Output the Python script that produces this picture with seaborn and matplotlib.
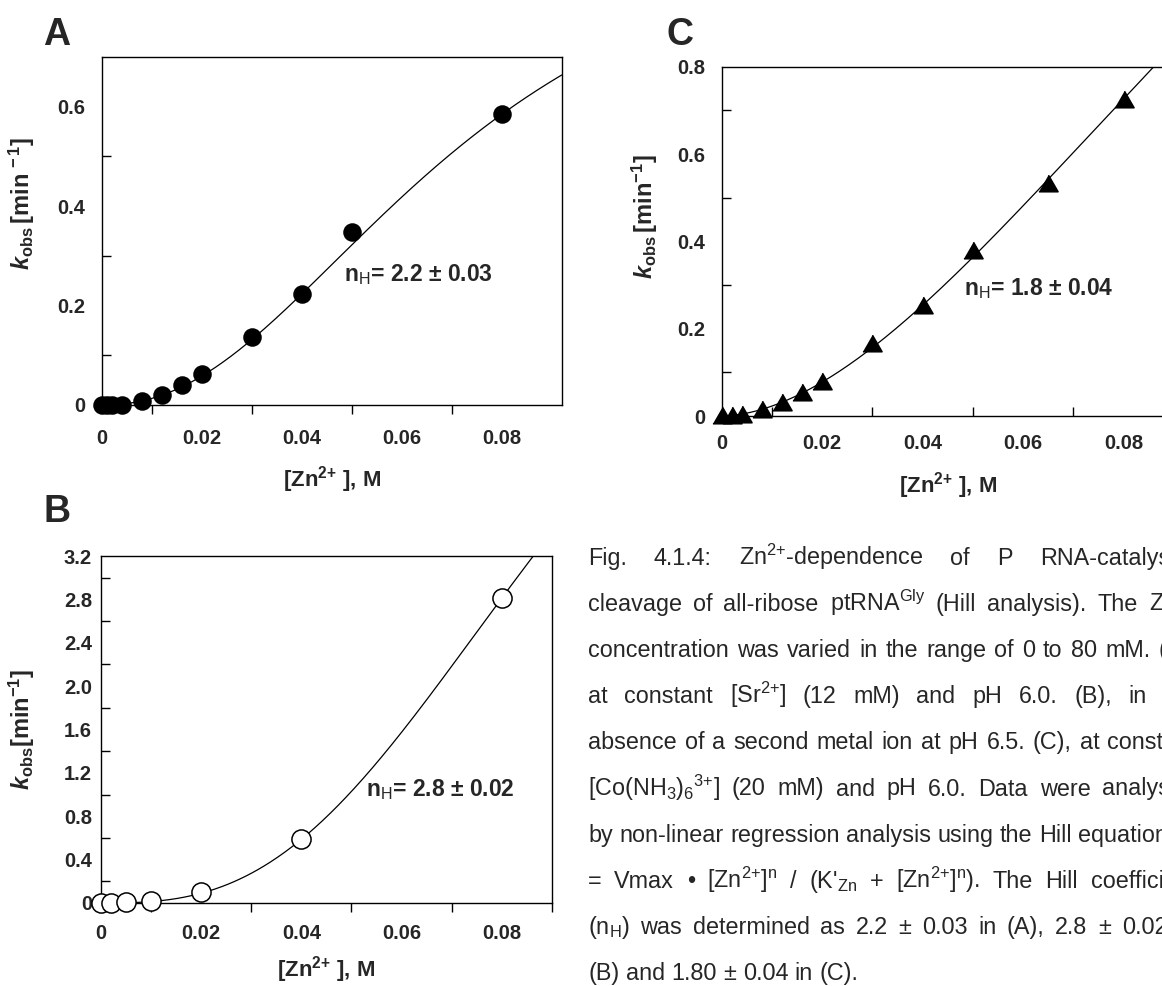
import numpy as np
import pandas as pd
import seaborn as sns
import matplotlib.pyplot as plt

sns.set_theme(style='white')
plt.rcParams['font.family'] = ['Liberation Sans', 'DejaVu Sans']
plt.rcParams['mathtext.fontset'] = 'custom'
plt.rcParams['mathtext.rm'] = 'Liberation Sans'
plt.rcParams['mathtext.it'] = 'Liberation Sans:italic:bold'
plt.rcParams['mathtext.bf'] = 'Liberation Sans:bold'
plt.rcParams['mathtext.sf'] = 'Liberation Sans'

# ---- data ----
zn_a = [0, 0.001, 0.002, 0.004, 0.008, 0.012, 0.016, 0.02, 0.03, 0.04, 0.05, 0.08]
kobs_a = [0, 0, 0, 0.001, 0.008, 0.021, 0.040, 0.062, 0.137, 0.223, 0.347, 0.585]

zn_b = [0, 0.002, 0.005, 0.01, 0.02, 0.04, 0.08]
kobs_b = [0, 0, 0.006, 0.02, 0.104, 0.587, 2.81]

zn_c = [0, 0.002, 0.004, 0.008, 0.012, 0.016, 0.02, 0.03, 0.04, 0.05, 0.065, 0.08]
kobs_c = [0.002, 0.003, 0.004, 0.015, 0.032, 0.055, 0.080, 0.168, 0.254, 0.381, 0.533, 0.727]

# Hill fit parameters (vmax, K, n) estimated from the drawn curves
hill_a = (1.064, 0.0731, 2.2)
hill_b = (7.70, 0.0975, 2.8)
hill_c = (2.911, 0.1474, 1.8)

nh_a = 'n$_{\\mathrm{H}}$= 2.2 ± 0.03'
nh_b = 'n$_{\\mathrm{H}}$= 2.8 ± 0.02'
nh_c = 'n$_{\\mathrm{H}}$= 1.8 ± 0.04'

xticks = [0, 0.02, 0.04, 0.06, 0.08]
xticklabels = ['0', '0.02', '0.04', '0.06', '0.08']
xminor = [0.01, 0.03, 0.05, 0.07, 0.09]
yticks_a = [0, 0.2, 0.4, 0.6]
yticklabels_a = ['0', '0.2', '0.4', '0.6']
yminor_a = [0.1, 0.3, 0.5]
yticks_b = [0, 0.4, 0.8, 1.2, 1.6, 2.0, 2.4, 2.8, 3.2]
yticklabels_b = ['0', '0.4', '0.8', '1.2', '1.6', '2.0', '2.4', '2.8', '3.2']
yminor_b = [0.2, 0.6, 1.0, 1.4, 1.8, 2.2, 2.6, 3.0]
yticks_c = [0, 0.2, 0.4, 0.6, 0.8]
yticklabels_c = ['0', '0.2', '0.4', '0.6', '0.8']
yminor_c = [0.1, 0.3, 0.5, 0.7]

caption_lines = [
    'Fig. 4.1.4: Zn$^{2{+}}$-dependence of P RNA-catalysed',
    'cleavage of all-ribose ptRNA$^{\\mathrm{Gly}}$ (Hill analysis). The Zn$^{2{+}}$',
    'concentration was varied in the range of 0 to 80 mM. (A),',
    'at constant [Sr$^{2{+}}$] (12 mM) and pH 6.0. (B), in the',
    'absence of a second metal ion at pH 6.5. (C), at constant',
    '[Co(NH$_{3}$)$_{6}{}^{3{+}}$] (20 mM) and pH 6.0. Data were analysed',
    'by non-linear regression analysis using the Hill equation: k$_{\\mathrm{obs}}$',
    '= Vmax • [Zn$^{2{+}}$]$^{\\mathrm{n}}$ / (K\'$_{\\mathrm{Zn}}$ + [Zn$^{2{+}}$]$^{\\mathrm{n}}$). The Hill coefficient',
    '(n$_{\\mathrm{H}}$) was determined as 2.2 ± 0.03 in (A), 2.8 ± 0.02 in',
    '(B) and 1.80 ± 0.04 in (C).',
]

W, H = 1162, 986
fig = plt.figure(figsize=(W / 100, H / 100), dpi=100)


def hill(x, p):
    vmax, k, n = p
    return vmax * x ** n / (k ** n + x ** n)


def make_axes(left, top, right, bottom):
    return fig.add_axes([left / W, 1 - bottom / H, (right - left) / W, (bottom - top) / H])


panels = [
    dict(name='A', box=(101.7, 57, 561.7, 405), x=zn_a, y=kobs_a, fit=hill_a, xmax=0.092, ymax=0.7,
         yt=yticks_a, ytl=yticklabels_a, ym=yminor_a, xm=xminor[:4], xdir='out', ypad=12, xpad=7,
         xlabpad=12, ylab_xy=(-0.141, 0.58),
         marker='o', s=150, face='black', note=nh_a, note_xy=(0.0485, 0.262),
         ylab='$k_{\\mathbf{obs}}\\,\\mathbf{[min^{\\,-1}]}$', letter=(43, 45)),
    dict(name='B', box=(101, 556, 551.7, 903), x=zn_b, y=kobs_b, fit=hill_b, xmax=0.09, ymax=3.2,
         yt=yticks_b, ytl=yticklabels_b, ym=yminor_b, xm=xminor, xdir='out', ypad=6.5, xpad=5,
         xlabpad=8, ylab_xy=(-0.142, 0.5),
         marker='o', s=190, face='white', note=nh_b, note_xy=(0.053, 1.045),
         ylab='$k_{\\mathbf{obs}}\\mathbf{[min^{-1}]}$', letter=(44, 522)),
    dict(name='C', box=(721.7, 66.7, 1174, 416), x=zn_c, y=kobs_c, fit=hill_c, xmax=0.09, ymax=0.8,
         yt=yticks_c, ytl=yticklabels_c, ym=yminor_c, xm=xminor, xdir='in', ypad=12, xpad=13,
         xlabpad=12, ylab_xy=(-0.136, 0.57),
         marker=[(-1, -0.866), (1, -0.866), (0, 0.866)], s=190, face='black', note=nh_c,
         note_xy=(0.0483, 0.292), ylab='$k_{\\mathbf{obs}}\\,\\mathbf{[min^{-1}]}$', letter=(667, 45)),
]

for p in panels:
    ax = make_axes(*p['box'])
    xs = np.linspace(0, p['xmax'], 300)
    curve = pd.DataFrame({'zn': xs, 'k': hill(xs, p['fit'])})
    sns.lineplot(data=curve, x='zn', y='k', color='black', lw=0.9, ax=ax)
    pts = pd.DataFrame({'zn': p['x'], 'k': p['y']})
    sns.scatterplot(data=pts, x='zn', y='k', marker=p['marker'], s=p['s'], color=p['face'],
                    edgecolor='black', linewidth=1.1, clip_on=False, zorder=5, ax=ax)
    ax.set_xlim(0, p['xmax'])
    ax.set_ylim(0, p['ymax'])
    ax.set_xticks(xticks, labels=xticklabels, fontsize=14.5, fontweight='bold')
    ax.set_xticks(p['xm'], minor=True)
    ax.set_yticks(p['yt'], labels=p['ytl'], fontsize=14.5, fontweight='bold')
    ax.set_yticks(p['ym'], minor=True)
    ax.tick_params(axis='y', which='major', direction='in', length=10, width=1, color='black', pad=p['ypad'])
    ax.tick_params(axis='y', which='minor', direction='in', length=6.5, width=1, color='black', left=True)
    ax.tick_params(axis='x', which='major', direction=p['xdir'], length=10, width=1, color='black', pad=p['xpad'])
    ax.tick_params(axis='x', which='minor', direction=p['xdir'], length=6.5, width=1, color='black', bottom=True)
    for sp in ax.spines.values():
        sp.set_color('black')
        sp.set_linewidth(1.0)
    ax.set_xlabel('[Zn$^{\\mathbf{2}\\mathbf{+}}$ ], M', fontsize=16, fontweight='bold', labelpad=p['xlabpad'])
    ax.set_ylabel(p['ylab'], fontsize=17)
    ax.yaxis.set_label_coords(*p['ylab_xy'])
    ax.text(p['note_xy'][0], p['note_xy'][1], p['note'], fontsize=16.5, fontweight='bold', va='center')
    lx, ly = p['letter']
    fig.text(lx / W, 1 - ly / H, p['name'], fontsize=27, fontweight='bold', va='baseline')

# caption, justified like the original text block (runs off the right edge as in the source)
renderer = fig.canvas.get_renderer()
cap_size = 16.8
x0, x1 = 588, 1196
base0, step = 565, 46.1
space = 0.278 * cap_size * 100 / 72
for i, line in enumerate(caption_lines):
    y = base0 + i * step
    words = line.split(' ')
    arts = [fig.text(x0 / W, 1 - y / H, w, fontsize=cap_size, va='baseline') for w in words]
    widths = [a.get_window_extent(renderer).width for a in arts]
    last = i == len(caption_lines) - 1
    gap = space if last else max(space, (x1 - x0 - sum(widths)) / (len(words) - 1))
    x = x0
    for a, w in zip(arts, widths):
        a.set_x(x / W)
        x += w + gap

fig.savefig('out.png', dpi=100)
